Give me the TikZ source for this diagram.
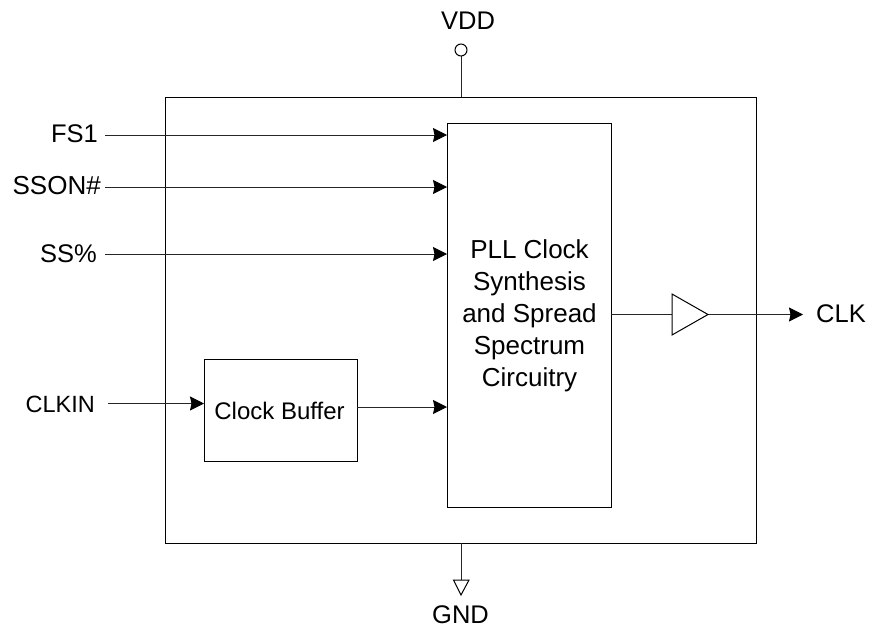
\documentclass[tikz,border=0pt]{standalone}
\usepackage{fontspec}
\setmainfont{Liberation Sans}
\usetikzlibrary{arrows.meta}
\tikzset{
  x=1pt,y=-1pt,
  boxstyle/.style={draw=black,line width=1pt,minimum width=0pt,inner sep=0pt,anchor=north west},
  lab/.style={font=\fontsize{25.5}{28}\selectfont,inner sep=0pt,text=black},
  wire/.style={draw=black!85,line width=1pt},
  sig/.style={wire,-{Stealth[length=14pt,width=14pt,inset=1.5pt,color=black,fill=black]}},
  sym/.style={draw=black,line width=1pt,fill=white,line join=miter}
}
\begin{document}
\begin{tikzpicture}
\useasboundingbox (0,0) rectangle (869,629);
\node[boxstyle,minimum width=591pt,minimum height=446pt] (outer) at (165,97) {};
\node[boxstyle,minimum width=164pt,minimum height=384pt,fill=white] (pll) at (447,123) {};
\node[align=center,font=\fontsize{26}{32}\selectfont,inner sep=0pt] (plltxt) at (529.5,315.5) {PLL Clock\\Synthesis\\and Spread\\Spectrum\\Circuitry};
\node[boxstyle,minimum width=153pt,minimum height=102pt,font=\fontsize{24}{27}\selectfont] (buf) at (204,359) {Clock Buffer\kern3pt};

\node[lab,anchor=east] (fs) at (98,134) {FS1};
\node[lab,anchor=east,font=\fontsize{26}{28}\selectfont] (sson) at (101,186) {SSON\#};
\node[lab,anchor=east] (ss) at (97,254) {SS\%};
\node[lab,anchor=east,font=\fontsize{23.5}{28}\selectfont] (clkin) at (95,404) {CLKIN};
\node[lab,anchor=west] (clk) at (816,314) {CLK};
\node[lab] (vdd) at (468,21) {VDD};
\node[lab] (gnd) at (460.5,615) {GND};

\coordinate (fsa) at (105,135); \coordinate (fsb) at (447,135);
\coordinate (ssona) at (105,187); \coordinate (ssonb) at (447,187);
\coordinate (ssa) at (105,254); \coordinate (ssb) at (447,254);
\coordinate (clka) at (108,403.5); \coordinate (clkb) at (204,403.5);
\coordinate (bufa) at (357,407); \coordinate (bufb) at (447,407);
\coordinate (outa) at (611,314.5); \coordinate (outb) at (672,314.5);
\coordinate (tip) at (708,314.5); \coordinate (oute) at (803,314.5);
\coordinate (vt) at (461,56); \coordinate (vb) at (461,97);
\coordinate (gt) at (461,543); \coordinate (gb) at (461,580);

\draw[sig] (fsa) -- (fsb);
\draw[sig] (ssona) -- (ssonb);
\draw[sig] (ssa) -- (ssb);
\draw[sig] (clka) -- (clkb);
\draw[sig] (bufa) -- (bufb);
\draw[wire] (outa) -- (outb);
\draw[sig] (tip) -- (oute);
\draw[sym] (outb) ++(0,-20.5) -- (tip) -- (672,335) -- cycle;
\draw[wire] (vt) -- (vb);
\node[draw=black,line width=1pt,circle,minimum size=12pt,inner sep=0pt] (vc) at (461,50) {};
\draw[wire] (gt) -- (gb);
\draw[sym] (453.5,580) -- (469,580) -- (461,595) -- cycle;
\end{tikzpicture}
\end{document}
